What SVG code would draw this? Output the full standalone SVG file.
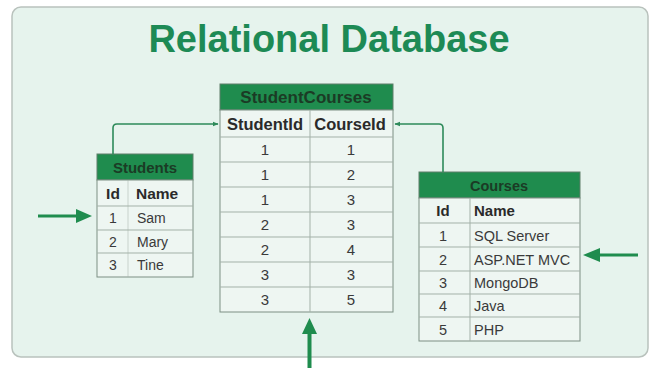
<svg xmlns="http://www.w3.org/2000/svg" width="651" height="368" viewBox="0 0 651 368">
<style>
.hdr{fill:#1f8c4e;stroke:#5f7f6a;stroke-width:1}
.body{fill:#eef6f2;stroke:#7d8f84;stroke-width:1}
.grid{stroke:#a3b1a8;stroke-width:1}
.ht{font-family:"Liberation Sans",Arial,sans-serif;font-weight:bold;fill:#1b3b25;text-anchor:middle}
.ch{font-family:"Liberation Sans",Arial,sans-serif;font-weight:bold;fill:#2a2a2a}
.cell{font-family:"Liberation Sans",Arial,sans-serif;fill:#3a3a3a}
.c{text-anchor:middle}
.conn{fill:none;stroke:#2e8a5a;stroke-width:1.6}
.big{fill:#1f8c4e}
</style>
<defs>
<marker id="ah" viewBox="0 0 10 10" refX="9" refY="5" markerWidth="6" markerHeight="6" orient="auto" markerUnits="userSpaceOnUse">
<path d="M0,1 L10,5 L0,9 z" fill="#2e8a5a"/>
</marker>
</defs>
<rect x="0" y="0" width="651" height="368" fill="#ffffff"/>
<rect x="12" y="7" width="636" height="350" rx="9" fill="#e6f3ed" stroke="#b9c2bd" stroke-width="1.5"/>
<text x="329" y="52" text-anchor="middle" font-family="'Liberation Sans',Arial,sans-serif" font-size="38" font-weight="bold" fill="#1d8a55">Relational Database</text>

<g id="studentcourses">
<rect class="hdr" x="220" y="84" width="173" height="26"/>
<rect class="body" x="220" y="110" width="173" height="202"/>
<line class="grid" x1="220" y1="137" x2="393" y2="137"/>
<line class="grid" x1="220" y1="162" x2="393" y2="162"/>
<line class="grid" x1="220" y1="187" x2="393" y2="187"/>
<line class="grid" x1="220" y1="212" x2="393" y2="212"/>
<line class="grid" x1="220" y1="237" x2="393" y2="237"/>
<line class="grid" x1="220" y1="262" x2="393" y2="262"/>
<line class="grid" x1="220" y1="287" x2="393" y2="287"/>
<line class="grid" x1="310" y1="110" x2="310" y2="312"/>
<text class="ht" x="306" y="103" font-size="17">StudentCourses</text>
<text class="ch" x="265" y="129.5" text-anchor="middle" font-size="16.5">StudentId</text>
<text class="ch" x="350" y="129.5" text-anchor="middle" font-size="16.5">CourseId</text>
<g class="cell c" font-size="15">
<text x="265" y="155">1</text><text x="351" y="155">1</text>
<text x="265" y="180">1</text><text x="351" y="180">2</text>
<text x="265" y="205">1</text><text x="351" y="205">3</text>
<text x="265" y="230">2</text><text x="351" y="230">3</text>
<text x="265" y="255">2</text><text x="351" y="255">4</text>
<text x="265" y="280">3</text><text x="351" y="280">3</text>
<text x="265" y="305">3</text><text x="351" y="305">5</text>
</g>
</g>

<g id="students">
<rect class="hdr" x="97" y="154" width="96" height="26"/>
<rect class="body" x="97" y="180" width="96" height="97"/>
<line class="grid" x1="97" y1="206" x2="193" y2="206"/>
<line class="grid" x1="97" y1="230" x2="193" y2="230"/>
<line class="grid" x1="97" y1="253" x2="193" y2="253"/>
<line class="grid" x1="128" y1="180" x2="128" y2="277" stroke-opacity="0.5"/>
<text class="ht" x="145" y="172.5" font-size="15">Students</text>
<text class="ch" x="113" y="198.5" text-anchor="middle" font-size="15.5">Id</text>
<text class="ch" x="136" y="198.5" font-size="15.5">Name</text>
<g font-size="14">
<text class="cell c" x="113" y="223">1</text><text class="cell" x="137" y="223">Sam</text>
<text class="cell c" x="113" y="246.5">2</text><text class="cell" x="137" y="246.5">Mary</text>
<text class="cell c" x="113" y="270">3</text><text class="cell" x="137" y="270">Tine</text>
</g>
</g>

<g id="courses">
<rect class="hdr" x="419" y="172" width="161" height="26"/>
<rect class="body" x="419" y="198" width="161" height="143"/>
<line class="grid" x1="419" y1="223" x2="580" y2="223"/>
<line class="grid" x1="419" y1="247" x2="580" y2="247"/>
<line class="grid" x1="419" y1="271" x2="580" y2="271"/>
<line class="grid" x1="419" y1="294" x2="580" y2="294"/>
<line class="grid" x1="419" y1="317" x2="580" y2="317"/>
<line class="grid" x1="470" y1="198" x2="470" y2="341"/>
<text class="ht" x="499" y="190.5" font-size="14.5">Courses</text>
<text class="ch" x="443" y="216" text-anchor="middle" font-size="15">Id</text>
<text class="ch" x="474" y="216" font-size="15">Name</text>
<g font-size="14.5">
<text class="cell c" x="443" y="240.5">1</text><text class="cell" x="474" y="240.5">SQL Server</text>
<text class="cell c" x="443" y="264.5">2</text><text class="cell" x="474" y="264.5">ASP.NET MVC</text>
<text class="cell c" x="443" y="288">3</text><text class="cell" x="474" y="288">MongoDB</text>
<text class="cell c" x="443" y="311">4</text><text class="cell" x="474" y="311">Java</text>
<text class="cell c" x="443" y="334.5">5</text><text class="cell" x="474" y="334.5">PHP</text>
</g>
</g>

<g id="connectors">
<path class="conn" d="M113,154 V128 Q113,124 117,124 H218" marker-end="url(#ah)"/>
<path class="conn" d="M443,172 V128 Q443,124 439,124 H395" marker-end="url(#ah)"/>
<path class="big" d="M38,214.5 H76 V209 L92,216 L76,223 V217.5 H38 z"/>
<path class="big" d="M638,253.5 H600 V248 L583,255 L600,262 V256.5 H638 z"/>
<path class="big" d="M307.5,368 V334 H302 L309.5,318 L317,334 H311.5 V368 z"/>
</g>
</svg>
